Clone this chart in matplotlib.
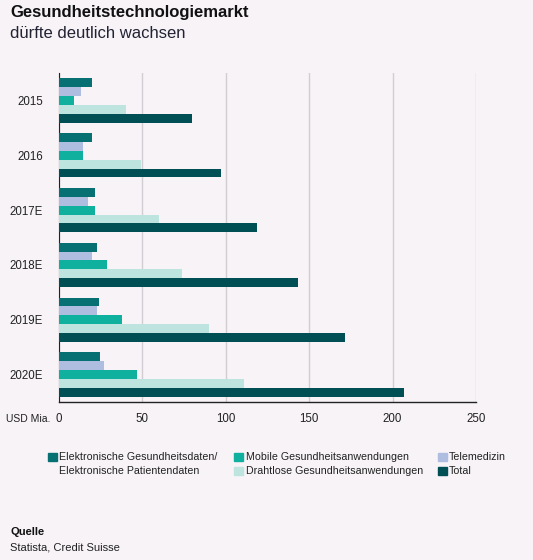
import matplotlib.pyplot as plt
import numpy as np
from matplotlib.patches import Rectangle

plt.rcParams['font.family'] = ['Liberation Sans', 'DejaVu Sans']

years = ['2015', '2016', '2017E', '2018E', '2019E', '2020E']
ehr = [20, 20, 21.5, 23, 24, 24.5]
telemedizin = [13, 14.5, 17.5, 20, 23, 27]
mobile = [9, 14.5, 21.5, 29, 37.5, 47]
drahtlose = [40, 49, 60, 74, 90, 111]
total = [80, 97, 118.5, 143, 171.5, 207]

series = [
    ('Elektronische Gesundheitsdaten/\nElektronische Patientendaten', ehr, '#077072'),
    ('Telemedizin', telemedizin, '#AFBEE0'),
    ('Mobile Gesundheitsanwendungen', mobile, '#10B09E'),
    ('Drahtlose Gesundheitsanwendungen', drahtlose, '#BDE4DF'),
    ('Total', total, '#004F55'),
]

bg = '#F7F3F7'
W, H = 533, 560
fig = plt.figure(figsize=(W / 100, H / 100), dpi=100, facecolor=bg)
ax = fig.add_axes([59 / W, (H - 402) / H, (476 - 59) / W, (402 - 73) / H])
ax.set_facecolor(bg)

h = 0.162
y = np.arange(len(years))
for i, (name, vals, col) in enumerate(series):
    ax.barh(y + (i - 2) * h, vals, height=h, color=col, zorder=3)

ax.set_xlim(0, 250)
ax.set_ylim(len(years) - 0.5, -0.5)
ax.set_xticks([0, 50, 100, 150, 200, 250])
ax.set_yticks(y)
ax.set_yticklabels(years)
ax.tick_params(axis='both', length=0, labelsize=8.3, colors='#222222')
ax.tick_params(axis='y', pad=11.5)
ax.tick_params(axis='x', pad=8)
ax.grid(axis='x', color='#D2CDD2', linewidth=1, zorder=0)
for s in ['top', 'right']:
    ax.spines[s].set_visible(False)
ax.spines['left'].set_color('#222222')
ax.spines['left'].set_linewidth(0.8)
ax.spines['bottom'].set_color('#222222')
ax.spines['bottom'].set_linewidth(1)

fig.text(6 / W, 1 - 419 / H, 'USD Mia.', fontsize=7.5, color='#222222', va='center', ha='left')

fig.text(10 / W, 1 - 12 / H, 'Gesundheitstechnologiemarkt', fontsize=12, fontweight='bold',
         color='#111111', va='center', ha='left')
fig.text(10 / W, 1 - 33 / H, 'dürfte deutlich wachsen', fontsize=12, color='#222233',
         va='center', ha='left')

# legend drawn by hand
for idx, x0 in [(0, 48), (2, 234.5), (1, 438)]:
    name, vals, col = series[idx]
    fig.add_artist(Rectangle((x0 / W, 1 - 461 / H), 8.5 / W, 8 / H, color=col,
                             transform=fig.transFigure))
    fig.text((x0 + 11) / W, 1 - 457 / H, name.split('\n')[0], fontsize=7.7,
             color='#222222', va='center', ha='left')
    if '\n' in name:
        fig.text((x0 + 11) / W, 1 - 471 / H, name.split('\n')[1], fontsize=7.7,
                 color='#222222', va='center', ha='left')
for idx, x0 in [(3, 234.5), (4, 438)]:
    name, vals, col = series[idx]
    fig.add_artist(Rectangle((x0 / W, 1 - 475 / H), 8.5 / W, 8 / H, color=col,
                             transform=fig.transFigure))
    fig.text((x0 + 11) / W, 1 - 471 / H, name, fontsize=7.7,
             color='#222222', va='center', ha='left')

fig.text(10 / W, 1 - 532 / H, 'Quelle', fontsize=8, fontweight='bold', color='#111111',
         va='center', ha='left')
fig.text(10 / W, 1 - 548 / H, 'Statista, Credit Suisse', fontsize=8, color='#222222',
         va='center', ha='left')

fig.savefig('out.png', dpi=100, facecolor=bg)
